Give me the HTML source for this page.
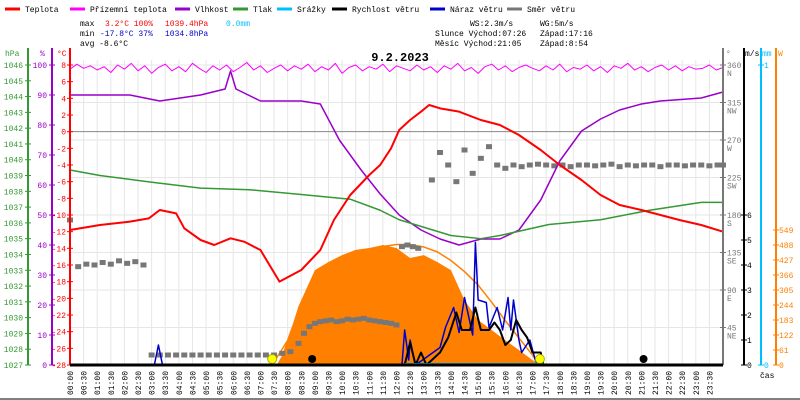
<!DOCTYPE html>
<html><head><meta charset="utf-8">
<style>
html,body{margin:0;padding:0;background:#fff;}
svg{display:block;font-family:"Liberation Mono",monospace;}
</style></head>
<body>
<svg id="chart" width="800" height="400" viewBox="0 0 800 400" xmlns="http://www.w3.org/2000/svg">
<rect x="0" y="0" width="800" height="400" fill="#fff"/>
<line x1="0" y1="399" x2="800" y2="399" stroke="#000"/>
<g id="legend" font-size="8"></g>
<g font-size="8">
<text x="80" y="26" fill="#000">max</text><text x="105" y="26" fill="#f00">3.2°C 100%</text><text x="165" y="26" fill="#f00">1039.4hPa</text><text x="226" y="26" fill="#00bfff">0.0mm</text>
<text x="80" y="36" fill="#000">min</text><text x="100" y="36" fill="#00c">-17.8°C 37%</text><text x="165" y="36" fill="#00c">1034.8hPa</text>
<text x="80" y="46" fill="#000">avg -8.6°C</text>
<text x="470" y="26" fill="#000">WS:2.3m/s</text><text x="540" y="26" fill="#000">WG:5m/s</text>
<text x="435" y="36" fill="#000">Slunce Východ:07:26</text><text x="540" y="36" fill="#000">Západ:17:16</text>
<text x="435" y="46" fill="#000">Měsíc  Východ:21:05</text><text x="540" y="46" fill="#000">Západ:8:54</text>
</g>
<g id="grid"></g>
<g id="series"></g>
<g id="axes"></g>
<text x="400" y="61" font-size="12" font-weight="bold" text-anchor="middle" fill="#000">9.2.2023</text>
</svg>
<script>
// ---- data ----
const tempH=[0,1.1,2.2,2.9,3.3,3.9,4.2,4.8,5.3,5.9,6.4,7.0,7.7,8.5,9.2,9.7,10.3,11.0,11.4,11.8,12.1,12.5,12.9,13.2,13.6,14.3,15.1,15.8,16.5,17.3,18.0,18.8,19.5,20.2,21.0,21.7,22.4,23.2,24.0];
const tempV=[-11.8,-11.2,-10.8,-10.4,-9.4,-9.8,-11.6,-13.0,-13.6,-12.8,-13.2,-14.2,-18.0,-16.6,-14.2,-10.6,-7.6,-5.2,-4.0,-2.0,0.2,1.4,2.4,3.2,2.8,2.4,1.4,0.8,-0.4,-2.2,-4.0,-5.8,-7.6,-8.8,-9.4,-10.0,-10.6,-11.2,-12.0];
const humH=[0,1.1,2.2,3.3,4.8,5.7,5.9,6.1,7.0,8.5,9.2,9.9,10.7,11.4,12.1,12.9,13.6,14.3,15.1,15.8,16.5,17.3,18.0,18.8,19.5,20.2,21.0,21.7,23.2,24.0];
const humV=[90,90,90,88,90,92,98,92,88,88,87,75,65,57,50,45,42,40,42,42,45,55,68,78,82,85,87,88,89,91];
const presH=[0,1.1,2.9,4.8,6.6,8.5,10.3,11.4,12.1,14.0,15.1,15.8,17.6,19.5,21.3,23.2,24.0];
const presV=[1039.35,1039.0,1038.6,1038.2,1038.1,1037.8,1037.5,1036.8,1036.2,1035.2,1035.0,1035.2,1035.9,1036.2,1036.8,1037.3,1037.3];
const feelV=[7.5,8.1,7.6,7.9,7.4,7.8,7.1,8.0,7.5,8.2,7.3,7.9,7.0,7.7,8.1,7.3,7.8,7.2,8.2,7.6,7.1,7.9,7.4,8.0,7.2,7.7,8.3,7.4,7.9,7.1,7.6,8.0,7.3,7.9,7.5,8.1,7.2,7.8,7.4,8.2,7.0,7.7,8.0,7.3,7.8,7.5,8.1,7.2,7.9,7.6,7.3,8.0,7.4,7.8,7.1,7.9,7.5,8.2,7.3,7.7,7.0,7.8,8.1,7.4,7.9,7.2,7.7,8.0,7.6,7.3,7.9,7.4,8.1,7.2,7.7,7.5,8.0,7.3,7.8,7.1,7.9,7.6,8.2,7.4,7.8,7.2,7.7,8.0,7.4,7.9,7.3,7.8,7.5,7.6,8.0,7.4,7.7];
const dirH=[0,0.3,0.6,0.9,1.2,1.5,1.8,2.1,2.4,2.7,3.0,3.3,3.6,3.9,4.2,4.5,4.8,5.1,5.4,5.7,6.0,6.3,6.6,6.9,7.2,7.5,7.8,8.1,8.4,8.6,8.8,9.0,9.2,9.4,9.6,9.8,10.0,10.2,10.4,10.6,10.8,11.0,11.2,11.4,11.6,11.8,12.0,12.2,12.4,12.6,12.8,13.3,13.6,13.9,14.2,14.5,14.8,15.1,15.4,15.7,16.0,16.3,16.6,16.9,17.2,17.5,17.8,18.1,18.4,18.7,19.0,19.3,19.6,19.9,20.2,20.5,20.8,21.1,21.4,21.7,22.0,22.3,22.6,22.9,23.2,23.5,23.8,24.0];
const dirV=[174,118,121,120,123,121,125,122,124,120,12,12,12,12,12,12,12,12,12,12,12,12,12,12,12,12,14,16,26,38,46,50,52,53,54,52,53,55,54,55,56,54,53,52,51,50,48,142,144,142,140,222,255,240,220,258,230,248,262,240,236,240,238,240,241,240,239,240,238,240,240,239,240,241,238,240,239,240,240,238,240,240,239,240,240,239,240,240];
const solH=[7.6,7.8,8.0,8.2,8.4,8.5,9.0,9.5,10.0,10.5,11.0,11.5,12.0,12.5,13.0,13.5,14.0,14.5,15.0,15.5,16.0,16.5,17.0,17.3];
const solV=[0,40,110,170,240,264,386,419,447,468,476,488,476,435,447,419,386,264,183,142,100,61,20,0];
const maxH=[7.43,8.0,8.5,9.0,9.5,10.0,10.5,11.0,11.5,12.0,12.5,13.0,13.5,14.0,14.5,15.0,15.5,16.0,16.5,17.0,17.27];
const maxV=[0,100,180,260,330,390,435,465,482,490,490,480,460,425,380,325,255,180,110,40,0];
const windH=[12.3,12.5,12.7,12.9,13.1,13.6,13.9,14.2,14.4,14.5,14.7,14.9,15.1,15.4,15.6,15.8,16.0,16.2,16.4,16.6,16.8,17.0,17.3,17.4];
const windV=[0,0.9,0,0.5,0,0.5,1.1,2.1,1.4,1.4,1.4,2.3,1.4,1.4,1.7,1.4,0.8,1.0,1.8,1.4,1.1,0.5,0.5,0];
const gustH=[3.1,3.25,3.4,12.2,12.3,12.45,12.5,12.7,13.6,13.8,14.1,14.3,14.5,14.8,14.9,15.0,15.3,15.4,15.7,15.9,16.1,16.2,16.3,16.5,16.6,16.9,17.1,17.2];
const gustV=[0,0.8,0,0,1.4,0.2,1.0,0,0.7,1.5,2.3,1.3,2.7,1.2,4.9,2.6,2.5,1.5,2.3,1.4,2.7,1.4,2.6,1.0,0.5,1.0,0.2,0];
const timeLabels=["00:00","00:30","01:00","01:30","02:00","02:30","03:00","03:30","04:00","04:30","05:00","05:30","06:00","06:30","07:00","07:30","08:00","08:30","09:00","09:30","10:00","10:30","11:00","11:30","12:00","12:30","13:00","13:30","14:00","14:30","15:00","15:30","16:00","16:30","17:00","17:30","18:00","18:30","19:00","19:30","20:00","20:30","21:00","21:30","22:00","22:30","23:00","23:30"];
const presTicks=[1046,1045,1044,1043,1042,1041,1040,1039,1038,1037,1036,1035,1034,1033,1032,1031,1030,1029,1028,1027];
const humTicks=[100,90,80,70,60,50,40,30,20,10,0];
const tempTicks=[8,6,4,2,0,-2,-4,-6,-8,-10,-12,-14,-16,-18,-20,-22,-24,-26,-28];
const dirTicks=[360,315,270,225,180,135,90,45];
const dirNames=["N","NW","W","SW","S","SE","E","NE"];
const msTicks=[6,5,4,3,2,1,0];
const wTicks=[549,488,427,366,305,244,183,122,61,0];
const sunH=[7.43,17.27];
const moonH=[8.9,21.08];

// ---- scales ----
const X0=70,X1=723,Y0=65,Y1=365;
const xS=h=>X0+h*(X1-X0)/24;
const yT=t=>Y0+(8-t)*(Y1-Y0)/36;
const yH=v=>Y1-v*(Y1-Y0)/100;
const yP=p=>Y0+(1046-p)*(Y1-Y0)/19;
const yD=d=>Y1-d*(Y1-Y0)/360;
const yM=v=>Y1-v*25;
const yW=v=>Y1-v*150/610;
const NS="http://www.w3.org/2000/svg";
function mk(tag,attrs,parent,txt){const e=document.createElementNS(NS,tag);for(const k in attrs)e.setAttribute(k,attrs[k]);if(txt!==undefined)e.textContent=txt;parent.appendChild(e);return e;}
const grid=document.getElementById('grid'),ser=document.getElementById('series'),ax=document.getElementById('axes'),lg=document.getElementById('legend');

// legend
const legItems=[["Teplota","#f00",5],["Přízemní teplota","#f0f",70],["Vlhkost","#90c",175],["Tlak","#393",233],["Srážky","#00bfff",277],["Rychlost větru","#000",332],["Náraz větru","#00c",430],["Směr větru","#777",507]];
legItems.forEach(it=>{const g=mk('g',{},lg);


mk('line',{x1:it[2],y1:9,x2:it[2]+15,y2:9,stroke:it[1],'stroke-width':3},g);
mk('text',{x:it[2]+20,y:12,fill:'#000'},g,it[0]);});

// grid
timeLabels.forEach((t,i)=>{const l=mk('line',{x1:xS(i/2),y1:Y0-5,x2:xS(i/2),y2:Y1,stroke:'#e6e6e6'},grid);

});
dirTicks.forEach(d=>{const l=mk('line',{x1:X0,y1:yD(d),x2:X1,y2:yD(d),stroke:'#e6e6e6'},grid);

});
const zl=mk('line',{x1:X0,y1:yT(0),x2:X1,y2:yT(0),stroke:'#888'},grid);



// solar area
let d="M"+xS(solH[0])+","+Y1;solH.forEach((h,i)=>{d+=" L"+xS(h)+","+yW(solV[i]);});d+=" L"+xS(solH[solH.length-1])+","+Y1+"Z";
const sa=mk('path',{d:d,fill:'#ff8000'},ser);


function line(hs,vs,ys,col,w,name){const p=hs.map((h,i)=>xS(h)+","+ys(vs[i])).join(" ");const e=mk('polyline',{points:p,fill:'none',stroke:col,'stroke-width':w,'stroke-linejoin':'round'},ser);

}
line(maxH,maxV,yW,'#ff8000',1.5,'solar-max-line');
dirH.forEach((h,i)=>{const r=mk('rect',{x:xS(h)-3,y:yD(dirV[i])-2.5,width:6,height:5,fill:'#777'},ser);

});
const fH=feelV.map((v,i)=>i*0.25);
line(fH,feelV,yT,'#f0f',1,'feels-like-line');
line(humH,humV,yH,'#90c',1.5,'humidity-line');
line(presH,presV,yP,'#393',1.5,'pressure-line');
line(tempH,tempV,yT,'#f00',2,'temperature-line');
line(gustH,gustV,yM,'#00c',1.5,'wind-gust-line');
line(windH,windV,yM,'#000',2,'wind-speed-line');
const rain=mk('line',{x1:xS(12.3),y1:Y1-1,x2:xS(17.4),y2:Y1-1,stroke:'#00bfff','stroke-width':2},ser);


sunH.forEach(h=>{const c=mk('circle',{cx:xS(h),cy:359,r:4.5,fill:'#ff0',stroke:'#aa0'},ser);

});
moonH.forEach(h=>{const c=mk('circle',{cx:xS(h),cy:359,r:4,fill:'#000'},ser);

});

// axes
function vaxis(x,col,name){const l=mk('line',{x1:x,y1:48,x2:x,y2:Y1,stroke:col,'stroke-width':2},ax);

}
vaxis(28,'#393','pressure-axis');vaxis(52,'#90c','humidity-axis');vaxis(70,'#f00','temperature-axis');
vaxis(723,'#777','direction-axis');vaxis(744,'#000','wind-speed-axis');vaxis(761,'#00bfff','rain-axis');vaxis(776,'#ff8000','solar-axis');
function tick(x,y,col,txt,anchor,tx,name){mk('line',{x1:x-3,y1:y,x2:x+3,y2:y,stroke:col},ax);const t=mk('text',{x:tx,y:y+3,fill:col,'font-size':8,'text-anchor':anchor},ax,txt);

}
presTicks.forEach(p=>tick(28,yP(p),'#393',p,'end',23,'pressure-tick-label'));
humTicks.forEach(v=>tick(52,yH(v),'#90c',v,'end',47,'humidity-tick-label'));
tempTicks.forEach(v=>tick(70,yT(v),'#f00',v,'end',66,'temperature-tick-label'));
dirTicks.forEach((v,i)=>{tick(723,yD(v),'#777',v,'start',727,'direction-tick-label');const t=mk('text',{x:727,y:yD(v)+11,fill:'#777','font-size':8},ax,dirNames[i]);

});
msTicks.forEach(v=>tick(744,yM(v),'#000',v,'start',747,'wind-speed-tick-label'));
tick(761,Y0,'#00bfff',1,'start',764,'rain-tick-label');tick(761,Y1,'#00bfff',0,'start',764,'rain-tick-label');
wTicks.forEach(v=>tick(776,yW(v),'#ff8000',v,'start',779,'solar-tick-label'));
[["hPa",5,'#393'],["%",40,'#90c'],["°C",57,'#f00'],["°",726,'#777'],["m/s",745,'#000'],["mm",762,'#00bfff'],["W",778,'#ff8000']].forEach(u=>{const t=mk('text',{x:u[1],y:56,fill:u[2],'font-size':8},ax,u[0]);

});
const xb=mk('line',{x1:X0,y1:Y1,x2:X1,y2:Y1,stroke:'#000','stroke-width':3},ax);


timeLabels.forEach((t,i)=>{const x=xS(i/2);const e=mk('text',{x:0,y:0,fill:'#000','font-size':8,transform:`translate(${x+3},395) rotate(-90)`},ax,t);

});
const cs=mk('text',{x:760,y:378,fill:'#000','font-size':8},ax,'čas');


</script>
</body></html>
